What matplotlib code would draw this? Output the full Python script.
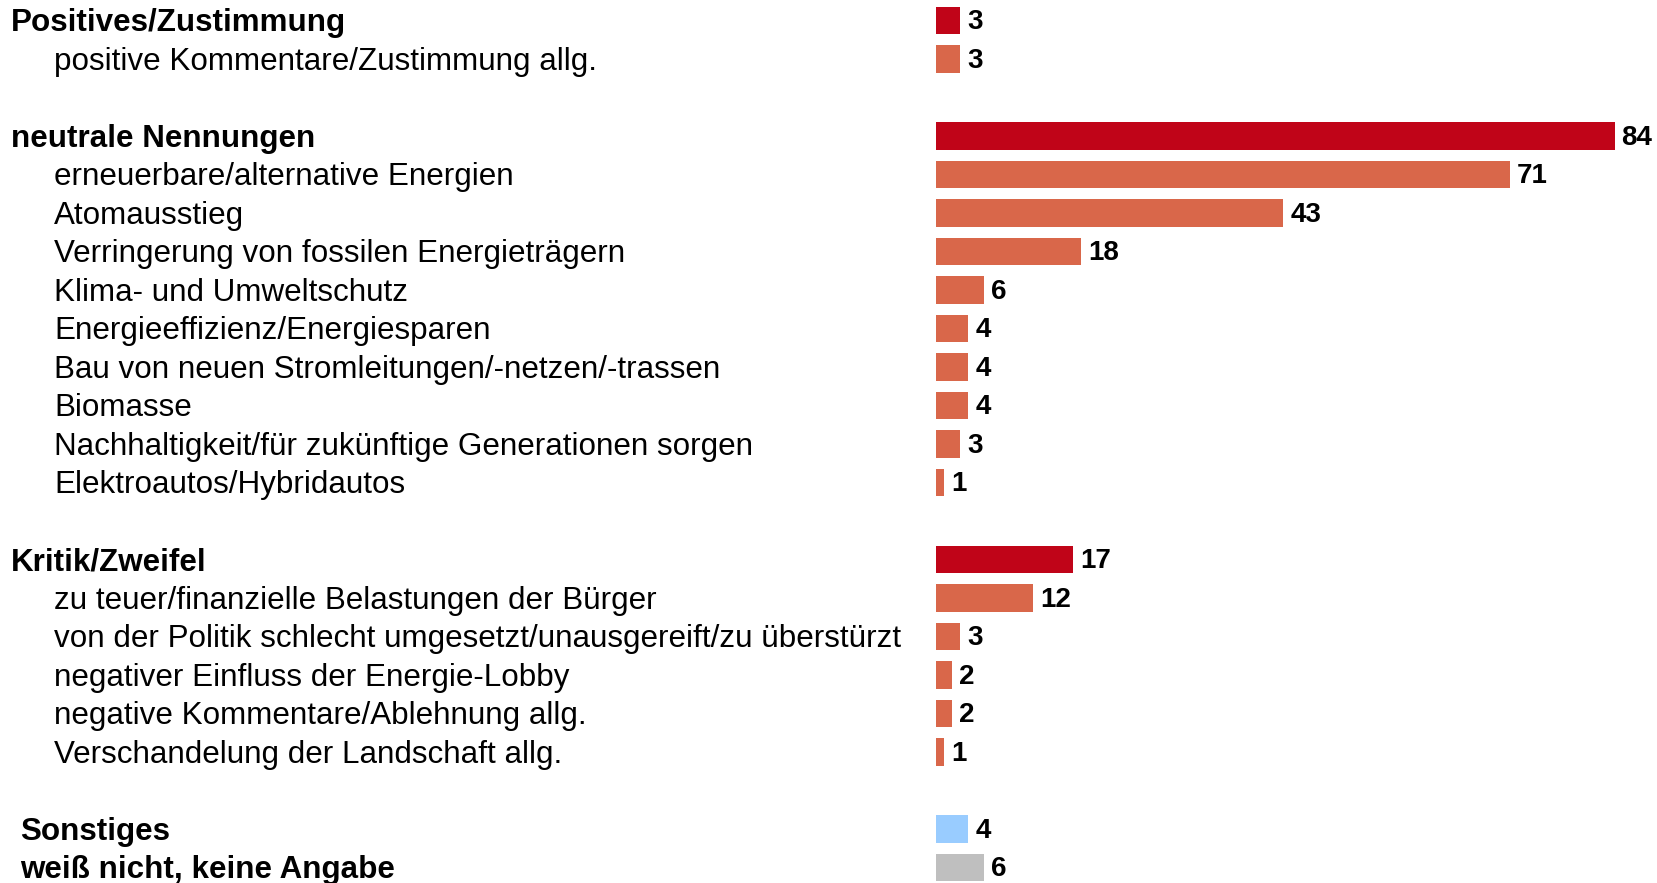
"""Horizontal bar chart: Nennungen zur Energiewende (grouped, with headers)."""

import matplotlib
matplotlib.use("Agg")
import matplotlib.pyplot as plt
from matplotlib.transforms import blended_transform_factory

plt.rcParams["font.family"] = ["Liberation Sans", "DejaVu Sans"]

# Rows top to bottom; None marks an empty spacer row
labels = [
    "Positives/Zustimmung",
    "positive Kommentare/Zustimmung allg.",
    None,
    "neutrale Nennungen",
    "erneuerbare/alternative Energien",
    "Atomausstieg",
    "Verringerung von fossilen Energieträgern",
    "Klima- und Umweltschutz",
    "Energieeffizienz/Energiesparen",
    "Bau von neuen Stromleitungen/-netzen/-trassen",
    "Biomasse",
    "Nachhaltigkeit/für zukünftige Generationen sorgen",
    "Elektroautos/Hybridautos",
    None,
    "Kritik/Zweifel",
    "zu teuer/finanzielle Belastungen der Bürger",
    "von der Politik schlecht umgesetzt/unausgereift/zu überstürzt",
    "negativer Einfluss der Energie-Lobby",
    "negative Kommentare/Ablehnung allg.",
    "Verschandelung der Landschaft allg.",
    None,
    "Sonstiges",
    "weiß nicht, keine Angabe",
]
values = [3, 3, None, 84, 71, 43, 18, 6, 4, 4, 4, 3, 1, None,
          17, 12, 3, 2, 2, 1, None, 4, 6]
# row kind: h = group header, s = sub item, o = other (slightly indented bold)
kinds = ["h", "s", None, "h", "s", "s", "s", "s", "s", "s", "s", "s", "s", None,
         "h", "s", "s", "s", "s", "s", None, "o", "o"]

colors = {"h": "#C00418", "s": "#D9674A"}
other_colors = ["#99CCFF", "#BFBFBF"]

W, H = 1658, 883
fig = plt.figure(figsize=(W / 100, H / 100), dpi=100)

# bars start at x=936 px, about 8.08 px per unit
ax = fig.add_axes([936 / W, 0, 1 - 936 / W, 1])
ax.set_xlim(0, (W - 936) / 8.08)
pitch = 38.5
y0 = 20.5
ax.set_ylim((H - y0) / pitch, -y0 / pitch)
ax.axis("off")

trans = blended_transform_factory(fig.transFigure, ax.transData)
other_i = 0
for i, (lab, val, kind) in enumerate(zip(labels, values, kinds)):
    if lab is None:
        continue
    if kind == "o":
        c = other_colors[other_i]
        other_i += 1
    else:
        c = colors[kind]
    ax.barh(i, val, height=0.72, color=c, left=0)
    ax.text(val + 0.85, i + 0.04, str(val), va="center", ha="left",
            fontsize=20, fontweight="bold", color="black")
    if kind == "h":
        x, weight = 11, "bold"
    elif kind == "o":
        x, weight = 20, "bold"
    else:
        x, weight = 54, "normal"
    ax.text(x / W, i + 0.07, lab, transform=trans, va="center", ha="left",
            fontsize=22.6, fontweight=weight, color="black")

fig.savefig("out.png", dpi=100)
plt.close(fig)
